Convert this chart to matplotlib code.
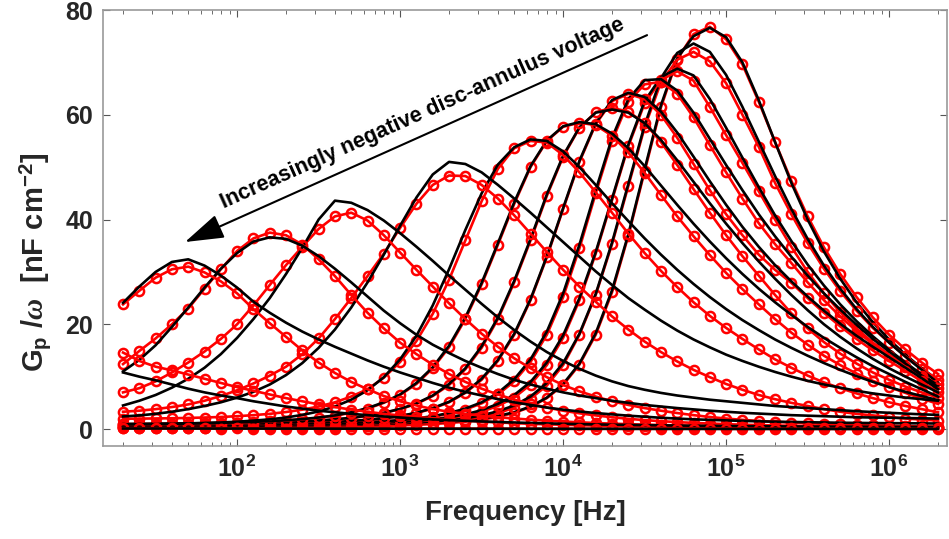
import matplotlib
matplotlib.use("Agg")
import matplotlib.pyplot as plt
from matplotlib.ticker import FixedLocator, NullFormatter

plt.rcParams['font.family'] = ['Liberation Sans', 'DejaVu Sans']
plt.rcParams['font.weight'] = 'bold'
plt.rcParams['axes.labelweight'] = 'bold'
plt.rcParams['mathtext.fontset'] = 'custom'
plt.rcParams['mathtext.rm'] = 'Liberation Sans:bold'
plt.rcParams['mathtext.bf'] = 'Liberation Sans:bold'
plt.rcParams['mathtext.it'] = 'Liberation Serif:italic'

# measurement frequencies (Hz), 10 points per decade
freq = [20, 25.18, 31.70, 39.91, 50.24, 63.25, 79.62, 100.2, 126.2, 158.9,
        200, 251.8, 317.0, 399.1, 502.4, 632.5, 796.2, 1002, 1262, 1589,
        2000, 2518, 3170, 3991, 5024, 6325, 7962, 10024, 12619, 15887,
        20000, 25179, 31698, 39905, 50238, 63246, 79621, 100237, 126191, 158866,
        200000, 251785, 316979, 399052, 502377, 632456, 796214, 1002374, 1261915, 1588656,
        2000000]

# measured Gp/w (red) and fits (black), one pair per bias voltage
red_a = [.23, .24, .25, .26, .27, .28, .3, .31, .33, .35, .37, .4, .42, .45, .5, .55,
         .6, .7, .8, .95, 1.15, 1.4, 1.8, 2.3, 3.1, 4.2, 5.9, 8.4, 12.3, 18.0, 26.1, 36.9, 49.2, 61.4, 70.6, 75.4,
         76.8, 74.4, 69.6, 62.5, 54.8, 47.4, 40.6, 34.7, 29.6, 25.2, 21.3, 18.0, 15.2, 12.7, 10.5]
fit_a = [.35, .36, .37, .38, .39, .4, .41, .43, .45, .47, .5, .53, .57, .62, .68, .75,
         .83, .93, 1.05, 1.2, 1.4, 1.65, 2.0, 2.5, 3.2, 4.3, 6.0, 8.6, 12.5, 18.3, 26.5, 37.2, 49.6, 61.8, 70.8, 75.0,
         76.6, 74.8, 70.0, 62.8, 54.8, 47.0, 40.0, 33.9, 28.7, 24.2, 20.4, 17.1, 14.2, 11.6, 9.3]

red_b = [.3, .31, .32, .33, .34, .35, .36, .38, .4, .42, .44, .47, .5, .55, .6, .67,
         .75, .85, 1.0, 1.2, 1.45, 1.8, 2.3, 3.0, 4.1, 5.8, 8.3, 12.2, 18.0, 25.6, 35.3, 46.4, 57.6, 66.2, 70.5, 72.0,
         70.2, 66.0, 60.0, 53.9, 47.0, 41.0, 35.5, 30.6, 26.3, 22.6, 19.3, 16.5, 13.9, 11.5, 9.4]
fit_b = [.41, .42, .43, .44, .45, .46, .48, .5, .52, .55, .58, .62, .67, .73, .8, .88,
         .98, 1.1, 1.25, 1.45, 1.7, 2.05, 2.6, 3.4, 4.5, 6.2, 8.8, 12.6, 18.2, 25.8, 35.6, 46.8, 58.0, 67.0, 71.8, 73.6,
         72.0, 67.6, 61.5, 54.9, 48.3, 42.0, 36.3, 31.2, 26.8, 22.9, 19.5, 16.5, 13.8, 11.3, 8.8]

red_c = [.47, .48, .49, .5, .51, .53, .55, .57, .6, .63, .67, .71, .76, .82, .9, 1.0,
         1.1, 1.25, 1.45, 1.7, 2.1, 2.6, 3.3, 4.4, 6.0, 8.5, 12.2, 17.4, 24.6, 33.5, 43.7, 54.0, 62.2, 66.6,
         68.3, 66.5, 61.5, 56.1, 50.8, 45.4, 40.0, 34.8, 30.0, 25.9, 22.3, 19.2, 16.5, 14.2, 12.1, 10.2, 8.6]
fit_c = [.51, .52, .53, .54, .55, .57, .59, .61, .64, .67, .71, .76, .82, .89, .97, 1.07,
         1.2, 1.36, 1.57, 1.85, 2.25, 2.8, 3.6, 4.8, 6.5, 9.0, 12.7, 17.9, 25.0, 33.8, 44.0, 54.3, 62.6, 67.2,
         68.8, 67.5, 63.0, 57.5, 51.8, 46.2, 40.8, 35.9, 31.4, 27.4, 23.8, 20.6, 17.7, 15.1, 12.7, 10.4, 8.3]

red_d = [.66, .67, .68, .69, .71, .73, .75, .78, .81, .85, .89, .94, 1.0, 1.08, 1.18, 1.3,
         1.45, 1.65, 1.95, 2.35, 2.9, 3.7, 4.9, 6.6, 9.1, 12.8, 18.0, 25.2, 34.5, 45.0, 55.0, 62.5, 65.8, 66.3,
         64.0, 59.5, 54.2, 49.0, 44.0, 39.3, 35.3, 31.7, 28.0, 24.6, 21.5, 18.7, 16.2, 14.0, 11.9, 9.8, 7.8]
fit_d = [.65, .66, .67, .68, .69, .71, .73, .75, .78, .82, .86, .91, .98, 1.06, 1.17, 1.3,
         1.47, 1.7, 2.02, 2.45, 3.05, 3.9, 5.1, 6.9, 9.5, 13.3, 18.6, 25.9, 35.2, 45.6, 55.6, 63.0, 66.6, 66.8,
         64.6, 60.4, 55.4, 50.4, 45.6, 41.0, 36.8, 32.9, 29.3, 25.9, 22.8, 19.9, 17.2, 14.8, 12.5, 10.2, 8.0]

red_e = [.74, .75, .76, .77, .79, .81, .84, .87, .91, .96, 1.02, 1.1, 1.2, 1.33, 1.5, 1.75,
         2.05, 2.45, 3.05, 3.9, 5.1, 6.9, 9.4, 13.0, 18.0, 24.6, 32.8, 42.0, 51.0, 58.2, 62.6, 64.0,
         63.0, 60.0, 55.6, 50.6, 45.6, 41.0, 37.0, 33.3, 30.4, 27.9, 25.0, 22.2, 19.6, 17.2, 15.0, 13.0, 11.1, 9.1, 7.0]
fit_e = [.7, .71, .72, .73, .75, .77, .8, .84, .88, .94, 1.01, 1.1, 1.21, 1.35, 1.53, 1.77,
         2.08, 2.5, 3.1, 4.0, 5.2, 7.0, 9.6, 13.2, 18.2, 24.8, 33.0, 42.2, 51.2, 58.4, 62.8, 64.2,
         63.4, 60.6, 56.6, 52.0, 47.3, 42.8, 38.6, 34.8, 31.3, 28.2, 25.3, 22.6, 20.1, 17.8, 15.7, 13.7, 11.7, 9.7, 7.6]

red_f = [.87, .88, .9, .92, .94, .97, 1.01, 1.06, 1.12, 1.2, 1.3, 1.42, 1.58, 1.8, 2.1, 2.5,
         3.05, 3.8, 4.8, 6.3, 8.4, 11.4, 15.5, 21.0, 28.0, 36.0, 44.5, 52.0, 57.5, 60.5, 61.3,
         60.6, 58.4, 54.8, 50.4, 45.8, 41.3, 37.0, 33.0, 29.3, 25.6, 22.1, 19.2, 16.6, 14.4, 12.5, 10.8, 9.4, 8.1, 7.0, 6.0]
fit_f = [.89, .9, .92, .94, .96, .99, 1.03, 1.08, 1.14, 1.22, 1.32, 1.45, 1.62, 1.85, 2.15, 2.55,
         3.1, 3.85, 4.9, 6.4, 8.6, 11.6, 15.8, 21.3, 28.3, 36.3, 44.8, 52.2, 57.6, 60.4, 61.0,
         60.4, 58.4, 55.2, 51.3, 47.2, 43.1, 39.2, 35.5, 32.0, 28.7, 25.6, 22.7, 20.0, 17.6, 15.4, 13.4, 11.6, 10.0, 8.5, 7.0]

red_g = [.93, .95, .97, 1.0, 1.03, 1.08, 1.14, 1.22, 1.32, 1.45, 1.62, 1.85, 2.15, 2.55, 3.1, 3.9,
         5.0, 6.5, 8.6, 11.6, 15.6, 21.0, 27.6, 35.2, 43.0, 50.0, 55.0, 57.7, 58.5,
         58.0, 56.0, 52.8, 48.9, 44.7, 40.6, 36.8, 33.2, 29.8, 26.7, 23.8, 21.0, 18.4, 16.1, 14.0, 12.2, 10.6, 9.2, 8.0, 6.9, 5.8, 4.8]
fit_g = [.97, .99, 1.01, 1.04, 1.08, 1.13, 1.19, 1.27, 1.37, 1.5, 1.67, 1.9, 2.2, 2.6, 3.2, 4.0,
         5.1, 6.6, 8.8, 11.8, 15.9, 21.3, 27.9, 35.5, 43.3, 50.2, 55.1, 57.8, 58.6,
         58.2, 56.4, 53.6, 50.2, 46.5, 42.8, 39.2, 35.8, 32.6, 29.6, 26.8, 24.2, 21.8, 19.5, 17.4, 15.5, 13.7, 12.0, 10.5, 9.0, 7.6, 6.2]

red_h = [1.97, 1.99, 2.02, 2.06, 2.12, 2.2, 2.3, 2.45, 2.65, 2.9, 3.25, 3.7, 4.3, 5.1, 6.2, 7.6,
         9.8, 12.8, 16.8, 22.0, 28.5, 36.0, 43.5, 49.7, 53.6, 55.0,
         54.7, 52.3, 49.0, 45.2, 41.3, 37.3, 33.6, 30.2, 27.1, 24.2, 21.6, 19.3, 17.2, 15.2, 13.3, 11.7, 10.2, 8.9, 7.8,
         6.8, 5.9, 5.1, 4.4, 3.8, 3.2]
fit_h = [.9, .92, .95, 1.0, 1.07, 1.15, 1.25, 1.4, 1.6, 1.85, 2.2, 2.7, 3.35, 4.3, 5.6, 7.4,
         9.9, 13.3, 17.8, 23.6, 30.5, 38.0, 45.0, 50.5, 53.8, 55.3,
         55.0, 53.0, 50.0, 46.6, 43.1, 39.7, 36.4, 33.3, 30.4, 27.7, 25.2, 22.9, 20.8, 18.9, 17.1, 15.5, 14.0, 12.6, 11.3,
         10.1, 9.0, 8.0, 7.1, 6.3, 5.5]

red_i = [3.3, 3.5, 3.8, 4.2, 4.7, 5.4, 6.3, 7.4, 8.7, 10.2, 11.9, 14.3, 17.3, 21.0, 25.0, 29.2, 33.5, 38.4, 43.0, 46.6,
         48.4, 48.3, 46.6, 44.0, 40.8, 37.3, 33.8, 30.4, 27.2, 24.3, 21.5, 19.0, 16.7, 14.7, 12.9, 11.3, 9.9, 8.6, 7.5,
         6.5, 5.7, 5.0, 4.4, 3.8, 3.3, 2.9, 2.6, 2.3, 2.0, 1.8, 1.6]
fit_i = [2.4, 2.6, 2.9, 3.3, 3.8, 4.4, 5.1, 6.0, 7.1, 8.5, 10.3, 12.6, 15.5, 19.0, 23.2, 28.0, 33.3, 38.8, 44.2, 48.6,
         51.0, 50.6, 49.0, 46.6, 44.0, 41.3, 38.5, 35.7, 32.9, 30.1, 27.5, 25.0, 22.8, 20.7, 18.8, 17.1, 15.6, 14.2, 13.0,
         11.9, 10.9, 10.0, 9.2, 8.5, 7.9, 7.3, 6.8, 6.4, 6.0, 5.7, 5.4]

red_j = [7.0, 7.8, 9.1, 10.8, 12.7, 14.8, 17.2, 20.0, 23.6, 27.5, 31.3, 34.8, 38.2, 40.6, 41.3,
         39.8, 37.0, 33.7, 30.4, 27.2, 24.0, 21.0, 18.2, 15.7, 13.5, 11.6, 9.9, 8.4, 7.2, 6.2, 5.3, 4.6, 4.0, 3.5, 3.05,
         2.65, 2.3, 2.0, 1.75, 1.55, 1.38, 1.23, 1.1, .98, .88, .79, .71, .64, .57, .51, .45]
fit_j = [4.5, 5.4, 6.5, 7.9, 9.6, 11.7, 14.3, 17.4, 21.0, 25.0, 29.6, 34.6, 40.0, 43.6,
         43.2, 41.8, 39.8, 37.4, 34.8, 32.1, 29.3, 26.6, 23.9, 21.3, 18.9, 16.7, 14.7, 13.0, 11.5, 10.2, 9.1, 8.2, 7.5,
         6.9, 6.4, 6.0, 5.6, 5.3, 5.0, 4.7, 4.4, 4.2, 4.0, 3.8, 3.6, 3.4, 3.25, 3.1, 2.95, 2.8, 2.7]

red_k = [12.4, 14.9, 17.3, 20.0, 23.0, 26.8, 30.5, 34.0, 36.4, 37.5, 37.0,
         35.2, 32.4, 29.2, 25.6, 22.2, 19.2, 16.5, 14.3, 12.3, 10.5, 9.0, 7.7, 6.6, 5.6, 4.8, 4.1, 3.5, 3.0, 2.6, 2.25,
         1.95, 1.7, 1.5, 1.32, 1.17, 1.04, .93, .83, .75, .68, .62, .56, .51, .47, .43, .4, .37, .34, .32, .3]
fit_k = [11.0, 13.2, 16.0, 19.5, 23.2, 27.0, 30.6, 33.6, 35.8, 36.6,
         36.3, 35.0, 33.0, 30.6, 28.0, 25.3, 22.6, 20.2, 18.0, 16.1, 14.5, 13.0, 11.7, 10.5, 9.4, 8.5, 7.7, 7.0, 6.4, 5.9,
         5.4, 5.0, 4.6, 4.3, 4.0, 3.75, 3.5, 3.3, 3.1, 2.95, 2.8, 2.65, 2.55, 2.45, 2.35, 2.25, 2.2, 2.15, 2.1, 2.05, 2.0]

red_l = [23.8, 26.4, 28.9, 30.5, 31.0, 29.9, 28.2, 25.9, 22.9, 20.2, 17.6,
         15.0, 12.7, 10.7, 9.0, 7.6, 6.3, 5.3, 4.5, 3.8, 3.3, 2.9, 2.55, 2.25, 2.0, 1.8, 1.6, 1.43, 1.28, 1.15, 1.03,
         .93, .84, .76, .69, .63, .58, .53, .49, .45, .42, .39, .36, .34, .32, .3, .28, .26, .25, .24, .23]
fit_l = [24.1, 27.2, 30.0, 31.9, 32.4, 31.2, 29.3, 27.0, 24.3, 22.2, 20.3,
         18.6, 17.1, 15.7, 14.4, 13.1, 11.9, 10.8, 9.8, 8.8, 7.9, 7.1, 6.4, 5.7, 5.1, 4.6, 4.1, 3.7, 3.35, 3.05, 2.8,
         2.55, 2.35, 2.15, 2.0, 1.85, 1.75, 1.65, 1.55, 1.47, 1.4, 1.35, 1.3, 1.25, 1.2, 1.17, 1.14, 1.12, 1.1, 1.08, 1.05]

red_m = [14.6, 13.0, 11.9, 11.2, 10.4, 9.6, 8.8, 8.0, 7.3, 6.6, 5.9,
         5.3, 4.7, 4.2, 3.7, 3.3, 2.9, 2.6, 2.3, 2.05, 1.8, 1.6, 1.42, 1.26, 1.12, 1.0, .9, .81, .73, .66, .6,
         .55, .5, .46, .42, .39, .36, .33, .31, .29, .27, .25, .24, .23, .22, .21, .2, .19, .18, .17, .16]
fit_m = [10.8, 10.0, 9.3, 8.5, 7.7, 7.0, 6.4, 5.9, 5.3, 4.8, 4.3,
         3.9, 3.5, 3.2, 2.9, 2.65, 2.4, 2.2, 2.0, 1.85, 1.7, 1.57, 1.45, 1.35, 1.25, 1.16, 1.08, 1.0, .94, .88, .83,
         .78, .74, .7, .66, .63, .6, .57, .55, .53, .51, .49, .47, .46, .45, .44, .43, .42, .41, .4, .4]

red_n = [.12, .12, .11, .12, .11, .11, .1, .11, .1, .1, .09, .1, .09, .09, .08, .09, .08, .08, .07, .08,
         .07, .07, .06, .07, .06, .06, .05, .06, .05, .05, .05, .04, .05, .04, .04, .04, .03, .04, .03, .03,
         .03, .03, .02, .03, .02, .02, .02, .02, .01, .02, .01]
fit_n = [.1, .1, .1, .1, .1, .09, .09, .09, .09, .08, .08, .08, .08, .07, .07, .07, .07, .06, .06, .06,
         .06, .05, .05, .05, .05, .05, .04, .04, .04, .04, .04, .03, .03, .03, .03, .03, .03, .02, .02, .02,
         .02, .02, .02, .02, .01, .01, .01, .01, .01, .01, .01]

pairs = [(red_a, fit_a), (red_b, fit_b), (red_c, fit_c), (red_d, fit_d), (red_e, fit_e),
         (red_f, fit_f), (red_g, fit_g), (red_h, fit_h), (red_i, fit_i), (red_j, fit_j),
         (red_k, fit_k), (red_l, fit_l), (red_m, fit_m), (red_n, fit_n)]

fig = plt.figure(figsize=(9.49, 5.39), dpi=100)
ax = fig.add_axes([103 / 949, 93 / 539, 844 / 949, 436 / 539])

for red, fit in pairs:
    ax.plot(freq, red, '-o', color='red', lw=1.9, ms=6.6, mfc='none', mew=1.8)
    ax.plot(freq, fit, '-', color='black', lw=1.9)

ax.set_xscale('log')
ax.set_xlim(15.07, 2.27e6)
ax.set_ylim(-3.24, 80)

ax.xaxis.set_major_locator(FixedLocator([1e2, 1e3, 1e4, 1e5, 1e6]))
ax.set_xticklabels([r'$\mathbf{10^{%d}}$' % p for p in range(2, 7)])
minors = [m * 10 ** p for p in range(1, 7) for m in range(2, 10)]
ax.xaxis.set_minor_locator(FixedLocator(minors))
ax.xaxis.set_minor_formatter(NullFormatter())
ax.set_yticks([0, 20, 40, 60, 80])

grey = '#9a9a9a'
for s in ax.spines.values():
    s.set_color(grey)
    s.set_linewidth(1.2)
ax.tick_params(which='both', direction='in', top=True, right=True, color='#555555',
               labelcolor='#262626', labelsize=18)
ax.tick_params(which='major', length=5, width=0.8, pad=7)
ax.tick_params(which='minor', length=3, width=0.6)

ax.set_xlabel('Frequency [Hz]', fontsize=20, color='#262626')
ax.xaxis.set_label_coords(0.5, -0.125)
ax.set_ylabel(r'G$_\mathbf{p}$ /$\omega$  [nF cm$^\mathbf{-2}$]', fontsize=21, color='#262626')
ax.yaxis.set_label_coords(-0.058, 0.42)

ax.annotate('', xy=(48.0, 35.7), xytext=(32800, 75.2),
            arrowprops=dict(arrowstyle='-|>,head_length=1.1,head_width=0.35', color='black',
                            lw=1.5, shrinkA=0, shrinkB=0, mutation_scale=22))
ax.text(1380, 60.2, 'Increasingly negative disc-annulus voltage', rotation=24.1,
        rotation_mode='anchor', ha='center', va='center', fontsize=15.5, color='black')

fig.savefig('out.png', dpi=100)
